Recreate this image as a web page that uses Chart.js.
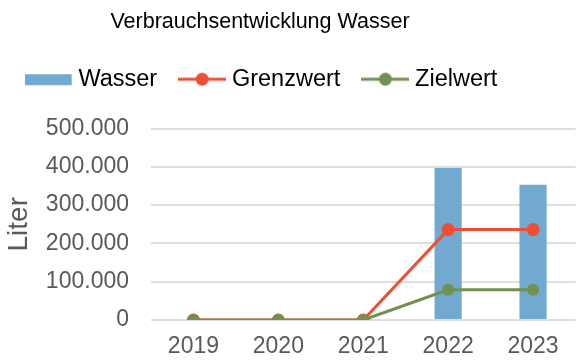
<!DOCTYPE html>
<html lang="de">
<head>
<meta charset="utf-8">
<title>Verbrauchsentwicklung Wasser</title>
<script src="https://cdn.jsdelivr.net/npm/chart.js@4/dist/chart.umd.min.js"></script>
<style>
  html, body { margin: 0; padding: 0; background: #fff; }
  #wrap { width: 582px; height: 360px; }
</style>
</head>
<body>
<div id="wrap"><canvas id="waterChart" width="582" height="360"></canvas></div>
<script>
// Jahreswerte in Liter
const years = ['2019', '2020', '2021', '2022', '2023'];
const wasser = [0, 0, 0, 397000, 353000];
const grenzwert = [0, 0, 0, 236000, 236000];
const zielwert = [0, 0, 0, 79000, 79000];

const BLUE = '#71a9d1';
const RED = '#ee4e36';
const GREEN = '#70914f';
const GRAY_TEXT = '#595959';
const FONT = '"Liberation Sans", Arial, sans-serif';

// 1.234.567 style thousands separator
function formatLiter(v) {
    return String(v).replace(/\B(?=(\d{3})+(?!\d))/g, '.');
}

// Legend symbols: a flat bar and a line with a dot
function barSymbol(color) {
    const c = document.createElement('canvas');
    c.width = 48; c.height = 16;
    const ctx = c.getContext('2d');
    ctx.fillStyle = color;
    ctx.fillRect(0, 3, 47, 11);
    return c;
}

function lineSymbol(color) {
    const c = document.createElement('canvas');
    c.width = 48; c.height = 16;
    const ctx = c.getContext('2d');
    ctx.strokeStyle = color;
    ctx.lineWidth = 3;
    ctx.beginPath();
    ctx.moveTo(0, 8);
    ctx.lineTo(48, 8);
    ctx.stroke();
    ctx.fillStyle = color;
    ctx.beginPath();
    ctx.arc(24, 8, 6.5, 0, Math.PI * 2);
    ctx.fill();
    return c;
}

const legendSymbols = [barSymbol(BLUE), lineSymbol(RED), lineSymbol(GREEN)];

// Header sits left of centre; legend is pulled up towards the title
const headerOffset = {
    id: 'headerOffset',
    afterLayout(chart) {
        const title = chart.titleBlock;
        const legend = chart.legend;
        title.left -= 31;
        title.right -= 31;
        legend.left -= 27;
        legend.right -= 27;
        legend.top -= 27.5;
        legend.bottom -= 27.5;
    }
};

const ctx = document.getElementById('waterChart').getContext('2d');
const waterChart = new Chart(ctx, {
    data: {
        labels: years,
        datasets: [{
            type: 'bar',
            label: 'Wasser',
            data: wasser,
            backgroundColor: BLUE,
            borderWidth: 0,
            barPercentage: 0.32,
            categoryPercentage: 1,
            order: 3
        }, {
            type: 'line',
            label: 'Grenzwert',
            data: grenzwert,
            borderColor: RED,
            backgroundColor: RED,
            borderWidth: 3,
            pointRadius: 6.5,
            pointBorderWidth: 0,
            pointBackgroundColor: RED,
            tension: 0,
            order: 2
        }, {
            type: 'line',
            label: 'Zielwert',
            data: zielwert,
            borderColor: GREEN,
            backgroundColor: GREEN,
            borderWidth: 3,
            pointRadius: 6,
            pointBorderWidth: 0,
            pointBackgroundColor: GREEN,
            tension: 0,
            order: 1
        }]
    },
    options: {
        responsive: false,
        animation: false,
        layout: {
            padding: { top: 0, right: 0, bottom: 0, left: 0 }
        },
        plugins: {
            title: {
                display: true,
                text: 'Verbrauchsentwicklung Wasser',
                color: '#000',
                font: { family: FONT, size: 21.5, weight: 'normal' },
                padding: { top: 9, bottom: 33.2 }
            },
            legend: {
                display: true,
                position: 'top',
                labels: {
                    usePointStyle: true,
                    pointStyleWidth: 36,
                    padding: 27,
                    color: '#000',
                    font: { family: FONT, size: 23.5 },
                    generateLabels(chart) {
                        return chart.data.datasets.map((ds, i) => ({
                            text: ds.label,
                            pointStyle: legendSymbols[i],
                            fillStyle: ds.backgroundColor,
                            strokeStyle: ds.backgroundColor,
                            lineWidth: 0,
                            hidden: false,
                            datasetIndex: i
                        }));
                    }
                }
            },
            tooltip: { enabled: false }
        },
        scales: {
            x: {
                grid: { display: false, drawTicks: false },
                border: { display: false },
                ticks: {
                    color: GRAY_TEXT,
                    font: { family: FONT, size: 23 },
                    padding: 13,
                    maxRotation: 0,
                    autoSkip: false
                },
                afterFit(scale) { scale.height = 40; }
            },
            y: {
                min: 0,
                max: 500000,
                grid: { color: '#dedede', lineWidth: 2, drawTicks: false },
                border: { display: false },
                ticks: {
                    stepSize: 100000,
                    color: GRAY_TEXT,
                    font: { family: FONT, size: 23 },
                    padding: 22,
                    callback: v => formatLiter(v)
                },
                title: {
                    display: true,
                    text: 'Liter',
                    color: GRAY_TEXT,
                    font: { family: FONT, size: 28 },
                    padding: { top: 2, bottom: 0 }
                },
                afterFit(scale) { scale.width = 151; }
            }
        }
    },
    plugins: [headerOffset]
});
</script>
</body>
</html>
